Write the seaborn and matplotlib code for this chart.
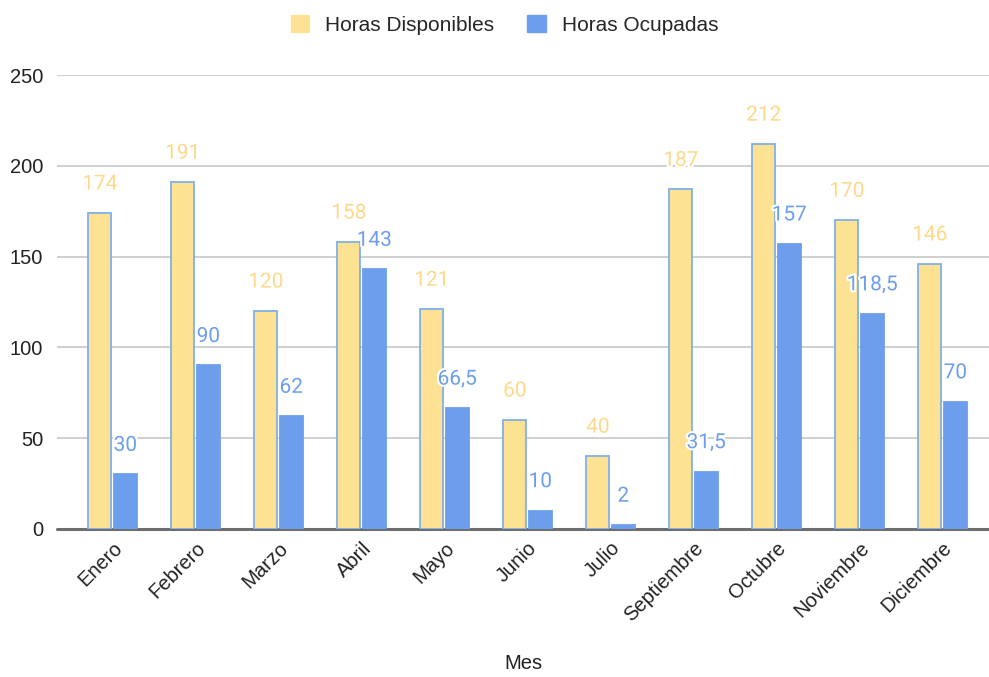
import numpy as np
import pandas as pd
import matplotlib
matplotlib.use("Agg")
import matplotlib.pyplot as plt
import matplotlib.patheffects as pe
import seaborn as sns

# datos del gráfico
meses = ["Enero", "Febrero", "Marzo", "Abril", "Mayo", "Junio", "Julio",
         "Septiembre", "Octubre", "Noviembre", "Diciembre"]
horas_disponibles = [174, 191, 120, 158, 121, 60, 40, 187, 212, 170, 146]
horas_ocupadas = [30, 90, 62, 143, 66.5, 10, 2, 31.5, 157, 118.5, 70]
series = ["Horas Disponibles", "Horas Ocupadas"]
colores = ["#fde293", "#6d9eeb"]
bordes = ["#7fb0e8", "#6d9eeb"]
colores_etiqueta = ["#fcd98b", "#6d9eeb"]

df = pd.DataFrame({
    "Mes": meses * 2,
    "valor": horas_disponibles + horas_ocupadas,
    "serie": [series[0]] * len(meses) + [series[1]] * len(meses),
})

sns.set_style("white")
plt.rcParams["font.family"] = ["Liberation Sans", "DejaVu Sans"]

fig = plt.figure(figsize=(9.89, 6.77), dpi=100)
ax = fig.add_axes([0.0576, 0.219, 0.9424, 0.670])

sns.barplot(data=df, x="Mes", y="valor", hue="serie", palette=colores,
            saturation=1, width=0.614, gap=0.1, ax=ax, legend=False, zorder=3)

for cont, borde in zip(ax.containers, bordes):
    for bar in cont:
        bar.set_edgecolor(borde)
        bar.set_linewidth(1.3)

# etiquetas de valores
for cont, col in zip(ax.containers, colores_etiqueta):
    labels = [f"{v:g}".replace(".", ",") for v in cont.datavalues]
    txts = ax.bar_label(cont, labels=labels, padding=14, fontsize=15, color=col,
                        family=["Roboto", "DejaVu Sans"])
    for t in txts:
        t.set_path_effects([pe.withStroke(linewidth=3, foreground="white")])

ax.set_ylim(0, 250)
ax.set_yticks([0, 50, 100, 150, 200, 250])
ax.yaxis.grid(True, color="#cccccc", linewidth=1.3, zorder=0)
ax.axhline(0, color="#6e6e6e", linewidth=2.2, zorder=2, clip_on=False)
for s in ax.spines.values():
    s.set_visible(False)
ax.tick_params(axis="both", length=0, labelsize=14.5, colors="#222222")
ax.tick_params(axis="y", pad=10)
ax.tick_params(axis="x", pad=7)
ax.set_xlim(-0.67, len(meses) - 0.44)
plt.setp(ax.get_xticklabels(), rotation=45, ha="right", rotation_mode="anchor")
ax.set_xlabel("Mes", fontsize=14.5, color="#222222", labelpad=21)
ax.set_ylabel("")

handles = [plt.Rectangle((0, 0), 1, 1, color=c) for c in colores]
fig.legend(handles, series, loc="center", bbox_to_anchor=(0.51, 0.963), ncol=2,
           frameon=False, fontsize=15, handlelength=0.9, handleheight=0.9,
           columnspacing=1.6, handletextpad=0.75)

fig.savefig("out.png", dpi=100)
